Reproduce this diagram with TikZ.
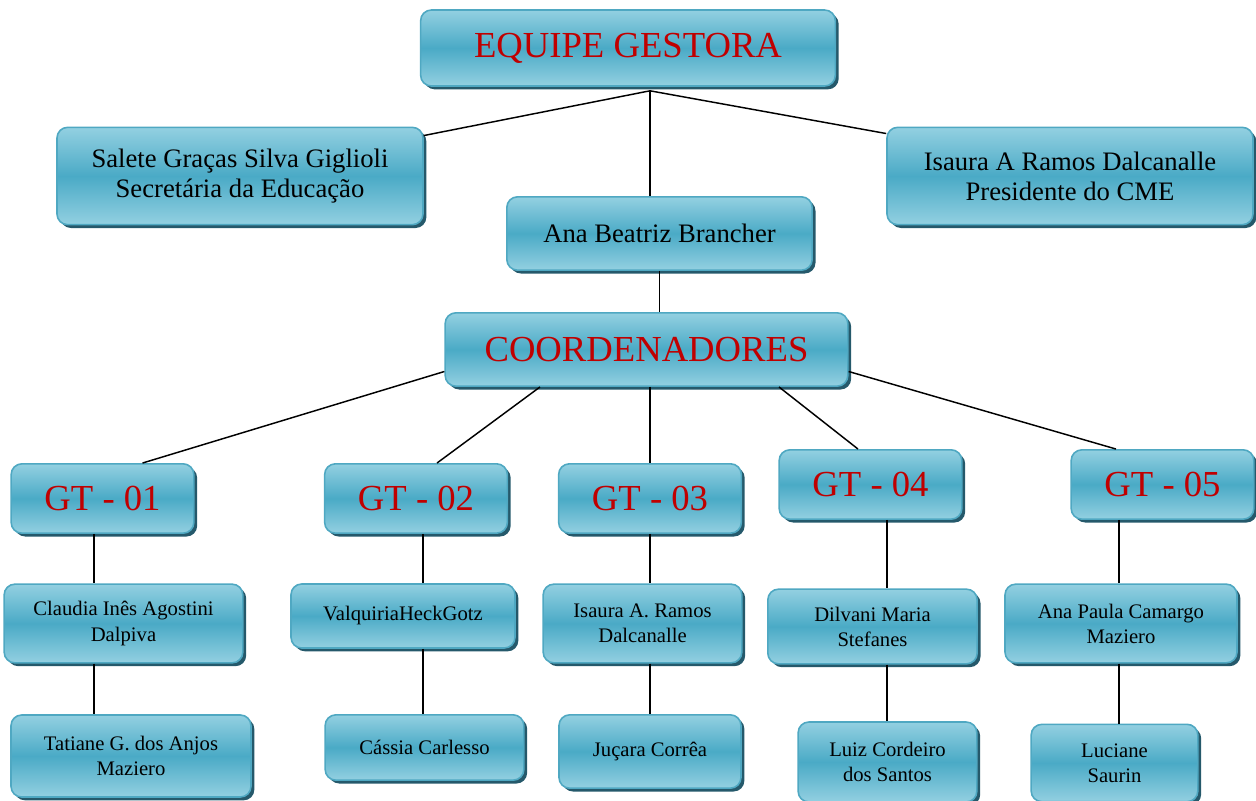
\documentclass[tikz,border=0pt]{standalone}
\usepackage{fontspec}
\setmainfont{Liberation Serif}
\usepackage{xcolor}
\usetikzlibrary{calc, shadows}

\definecolor{boxtop}{HTML}{93D0E1}
\definecolor{boxmid}{HTML}{4AAAC6}
\definecolor{boxedge}{HTML}{4FA8C2}
\definecolor{boxshade}{HTML}{25596B}
\definecolor{headred}{HTML}{C00000}

\begin{document}
\begin{tikzpicture}[
  x=0.75pt, y=-0.75pt,
  line width=1.1pt,
  orgbox/.style={draw=boxedge, line width=1.2pt, rounded corners=8pt, align=center,
    top color=boxtop, bottom color=boxtop, middle color=boxmid, inner sep=2pt,
    drop shadow={shadow xshift=2.5pt, shadow yshift=-2.5pt, fill=boxshade, opacity=1}},
  headbox/.style={orgbox, text=headred, font=\fontsize{27.5}{30}\selectfont},
  personbox/.style={orgbox, font=\fontsize{20}{22.5}\selectfont},
  memberbox/.style={orgbox, font=\fontsize{15.5}{18.8}\selectfont}
]
\useasboundingbox (0,0) rectangle (1256,800);

% top level
\node (equipe) [headbox, minimum width=311pt, minimum height=57pt] at (628,48) {EQUIPE GESTORA};
\node (salete) [personbox, minimum width=274.5pt, minimum height=73pt] at (240,176) {Salete Graças Silva Giglioli\\Secretária da Educação};
\node (isaura) [personbox, minimum width=274.5pt, minimum height=73pt] at (1070,176) {Isaura A Ramos Dalcanalle\\Presidente do CME};
\node (ana) [personbox, minimum width=229pt, minimum height=55pt] at (659.5,233.5) {Ana Beatriz Brancher};
\node (coord) [headbox, minimum width=302pt, minimum height=55pt] at (646.5,349.5) {COORDENADORES};

% groups
\node (gtone) [headbox, minimum width=137pt, minimum height=52pt] at (102.5,498.5) {GT - 01};
\node (gttwo) [headbox, minimum width=137pt, minimum height=52pt] at (416,498.5) {GT - 02};
\node (gtthree) [headbox, minimum width=137pt, minimum height=52pt] at (650,498.5) {GT - 03};
\node (gtfour) [headbox, minimum width=137pt, minimum height=52pt] at (870.5,484.5) {GT - 04};
\node (gtfive) [headbox, minimum width=137pt, minimum height=52pt] at (1162.5,484.5) {GT - 05};

% members
\node (claudia) [memberbox, minimum width=179pt, minimum height=59pt] at (123.5,623.5) {Claudia Inês Agostini\\Dalpiva};
\node (tatiane) [memberbox, minimum width=180pt, minimum height=61.5pt] at (131,756) {Tatiane G. dos Anjos\\Maziero};
\node (valquiria) [memberbox, minimum width=168pt, minimum height=48pt] at (403,616) {ValquiriaHeckGotz};
\node (cassia) [memberbox, minimum width=149pt, minimum height=49pt] at (424.5,747.5) {Cássia Carlesso};
\node (isauraa) [memberbox, minimum width=149pt, minimum height=59pt] at (642.5,623.5) {Isaura A. Ramos\\Dalcanalle};
\node (jucara) [memberbox, minimum width=136.5pt, minimum height=55pt] at (650,751.5) {Juçara Corrêa};
\node (dilvani) [memberbox, minimum width=157pt, minimum height=56pt] at (872.5,626.5) {Dilvani Maria\\Stefanes};
\node (luiz) [memberbox, minimum width=134pt, minimum height=60pt] at (887.5,762) {Luiz Cordeiro\\dos Santos};
\node (anapaula) [memberbox, minimum width=174pt, minimum height=59pt] at (1121,623.5) {Ana Paula Camargo\\Maziero};
\node (luciane) [memberbox, minimum width=125pt, minimum height=58pt] at (1114.5,763) {Luciane\\Saurin};

% connectors
\coordinate (hub) at ($(equipe.south)+(22,4)$);
\draw (hub) -- ($(salete.north east)+(0,9)$);
\draw (hub) -- ($(isaura.north west)+(0,7)$);
\draw (hub) -- (ana.north -| hub);
\draw (ana.south) -- (ana.south |- coord.north);

\draw ($(coord.west)+(0,22)$) -- ($(gtone.north)+(40,0)$);
\draw ($(coord.south)+(-106.5,0)$) -- ($(gttwo.north)+(21,0)$);
\draw (gtthree.north |- coord.south) -- (gtthree.north);
\draw ($(coord.south)+(132.5,0)$) -- ($(gtfour.north)+(-12.5,0)$);
\draw ($(coord.east)+(0,22)$) -- ($(gtfive.north)+(-46.5,0)$);

\coordinate (c1) at (94,0);
\coordinate (c2) at (423,0);
\coordinate (c3) at (650,0);
\coordinate (c4) at (887,0);
\coordinate (c5) at (1119,0);
\draw (gtone.south -| c1) -- (claudia.north -| c1);
\draw (claudia.south -| c1) -- (tatiane.north -| c1);
\draw (gttwo.south -| c2) -- (valquiria.north -| c2);
\draw (valquiria.south -| c2) -- (cassia.north -| c2);
\draw (gtthree.south -| c3) -- (isauraa.north -| c3);
\draw (isauraa.south -| c3) -- (jucara.north -| c3);
\draw (gtfour.south -| c4) -- (dilvani.north -| c4);
\draw (dilvani.south -| c4) -- (luiz.north -| c4);
\draw (gtfive.south -| c5) -- (anapaula.north -| c5);
\draw (anapaula.south -| c5) -- (luciane.north -| c5);
\end{tikzpicture}
\end{document}
